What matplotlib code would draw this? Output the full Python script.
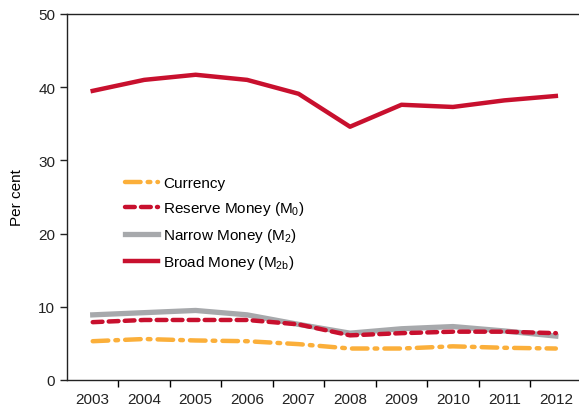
import matplotlib
matplotlib.use("Agg")
import matplotlib.pyplot as plt
import numpy as np

plt.rcParams['font.family'] = ['Liberation Sans', 'DejaVu Sans']
plt.rcParams['mathtext.fontset'] = 'custom'
plt.rcParams['mathtext.rm'] = 'Liberation Sans'
plt.rcParams['mathtext.it'] = 'Liberation Sans'

years = ['2003', '2004', '2005', '2006', '2007', '2008', '2009', '2010', '2011', '2012']
currency = [5.3, 5.6, 5.4, 5.3, 4.9, 4.3, 4.3, 4.6, 4.4, 4.3]
reserve_money = [7.9, 8.2, 8.2, 8.2, 7.6, 6.1, 6.4, 6.6, 6.6, 6.4]
narrow_money = [8.9, 9.2, 9.5, 8.9, 7.6, 6.4, 7.0, 7.3, 6.7, 6.0]
broad_money = [39.5, 41.0, 41.7, 41.0, 39.1, 34.6, 37.6, 37.3, 38.2, 38.8]
yticks = [0, 10, 20, 30, 40, 50]

fig = plt.figure(figsize=(5.79, 4.14), dpi=100)
ax = fig.add_axes([67/579, 1-381/414, 1-67/579, (381-15)/414])

x = np.arange(len(years))
red = '#C8102E'
grey = '#A7A9AC'
orange = '#FBAF3A'

ax.plot(x, currency, color=orange, lw=3.2, dashes=(3.5, 1.6, 0.6, 1.6), solid_capstyle='round', dash_capstyle='round', label='Currency')
ax.plot(x, reserve_money, color=red, lw=3.2, dashes=(2.2, 1.4), dash_capstyle='round', label='Reserve Money (M$_0$)')
ax.plot(x, narrow_money, color=grey, lw=3.8, label='Narrow Money (M$_2$)', zorder=1)
ax.plot(x, broad_money, color=red, lw=3.2, label='Broad Money (M$_{2b}$)')

ax.set_xlim(-0.5, 9.45)
ax.set_ylim(0, 50)
ax.set_yticks(yticks)
ax.set_yticklabels([str(v) for v in yticks])
ax.set_xticks(x[:-1] + 0.5)
ax.set_xticklabels([])
ax.set_xticks(x, minor=True)
ax.set_xticklabels(years, minor=True)
ax.tick_params(axis='x', which='minor', length=0, labelsize=11, pad=9, colors='#222222')
ax.tick_params(axis='x', which='major', length=5, direction='out', width=1)
ax.tick_params(axis='y', length=5, direction='out', labelsize=11, width=1, colors='#222222')
for s in ['left', 'bottom', 'top']:
    ax.spines[s].set_color('#222222')
    ax.spines[s].set_linewidth(1)
ax.spines['right'].set_visible(False)
ax.set_ylabel('Per cent', fontsize=11, labelpad=10)

ax.legend(loc='upper left', bbox_to_anchor=(0.086, 0.595), frameon=False, fontsize=11,
          handlelength=2.2, handletextpad=0.3, labelspacing=0.6)

fig.savefig('out.png', dpi=100)
